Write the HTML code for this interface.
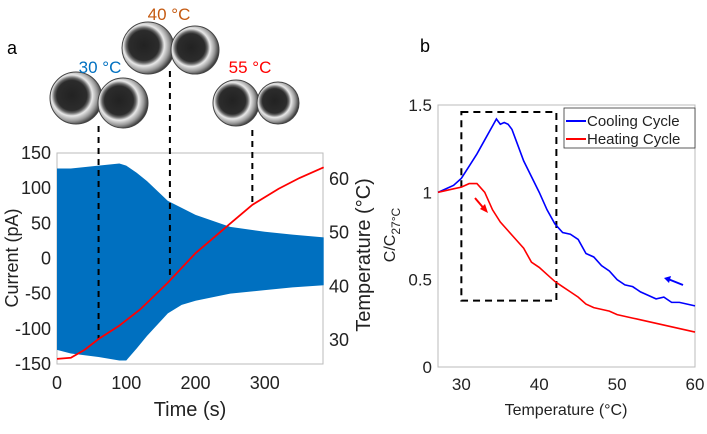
<!DOCTYPE html>
<html><head><meta charset="utf-8"><style>
body{margin:0;background:#fff;}
svg text{font-family:"Liberation Sans",Arial,sans-serif;}
</style></head><body>
<svg id="fig" width="707" height="429" viewBox="0 0 707 429" xmlns="http://www.w3.org/2000/svg">
<defs>
<radialGradient id="drop" cx="0.42" cy="0.45" r="0.58">
<stop offset="0" stop-color="#222"/><stop offset="0.5" stop-color="#2c2c2c"/><stop offset="0.58" stop-color="#666"/><stop offset="0.68" stop-color="#e8e8e8"/><stop offset="0.85" stop-color="#999"/><stop offset="1" stop-color="#3a3a3a"/>
</radialGradient>
</defs>
<g id="panelA"></g>
<g id="panelB"></g>
</svg>
<script>
// Panel a data
const envT=[0,20,60,90,100,115,130,160,180,200,250,300,340,385];
const envUpper=[128,128,132,135,132,122,110,82,72,62,45,38,34,30];
const envLower=[-130,-135,-140,-145,-145,-128,-110,-78,-66,-60,-50,-45,-41,-38];
const tempT=[0,20,40,60,90,120,160,200,250,282,320,350,385];
const tempVals=[26.3,26.5,28,30,32.5,35.5,40.5,46,51.5,55,58,60,62];
const markerT=[60,163,282];
const aXTicks=[0,100,200,300];
const aYTicks=[-150,-100,-50,0,50,100,150];
const aY2Ticks=[30,40,50,60];
// Panel b data
const coolT=[27,28,29,30,31,32,33,34,34.5,35,35.5,36,36.5,37,38,39,40,41,42,43,44,45,46,47,48,49,50,51,52,53,54,55,56,57,58,59,60];
const coolV=[1.0,1.02,1.04,1.08,1.15,1.22,1.30,1.38,1.42,1.39,1.40,1.39,1.36,1.30,1.18,1.09,1.0,0.9,0.82,0.77,0.76,0.73,0.65,0.63,0.58,0.55,0.50,0.47,0.46,0.43,0.41,0.39,0.40,0.37,0.37,0.36,0.35];
const heatT=[27,28,29,30,31,32,33,34,35,36,37,38,39,40,41,42,43,44,45,46,47,48,49,50,51,52,53,54,55,56,57,58,59,60];
const heatV=[1.0,1.01,1.02,1.03,1.05,1.05,1.0,0.90,0.83,0.78,0.73,0.68,0.60,0.57,0.53,0.49,0.46,0.43,0.40,0.36,0.34,0.33,0.32,0.30,0.29,0.28,0.27,0.26,0.25,0.24,0.23,0.22,0.21,0.20];
const bXTicks=[30,40,50,60];
const bYTicks=[0,0.5,1,1.5];
const boxT=[30,42.2];
const boxV=[0.38,1.46];

const NS="http://www.w3.org/2000/svg";
function mk(parent,tag,attrs,text){const e=document.createElementNS(NS,tag);for(const k in attrs)e.setAttribute(k,attrs[k]);if(text!==undefined)e.textContent=text;parent.appendChild(e);return e;}

// ---- Panel A ----
const A=document.getElementById('panelA');
const ax={l:57,r:323,t:153,b:364};
const xA=t=>ax.l+t/384*(ax.r-ax.l);
const yA=v=>ax.b-(v+150)/300*(ax.b-ax.t);
const yA2=T=>339-(T-30)/30*(339-178);
let t=mk(A,'text',{x:7,y:54,'font-size':18,fill:'#000'},'a');

const drops=[[76,98,26],[123,103,25],[148,48,26],[195,50,24],[236,103,23],[278,103,21]];
drops.forEach(d=>{const c=mk(A,'circle',{cx:d[0],cy:d[1],r:d[2],fill:'url(#drop)',stroke:'#444','stroke-width':1});
});
const labs=[[100,73,'#0070C0','30 °C'],[169,20,'#C55A11','40 °C'],[250,73,'#FF0000','55 °C']];
labs.forEach(l=>{const e=mk(A,'text',{x:l[0],y:l[1],'font-size':17,fill:l[2],'text-anchor':'middle'},l[3]);
});
let f=mk(A,'rect',{x:ax.l,y:ax.t,width:ax.r-ax.l,height:ax.b-ax.t,fill:'none',stroke:'#bbb'});

let pts=envT.map((tt,i)=>xA(tt)+','+yA(envUpper[i]));
for(let i=envT.length-1;i>=0;i--)pts.push(xA(envT[i])+','+yA(envLower[i]));
let env=mk(A,'polygon',{points:pts.join(' '),fill:'#0070C0'});

markerT.forEach((mt,i)=>{let idx=0;while(idx<tempT.length-2&&tempT[idx+1]<mt)idx++;
const T=tempVals[idx]+(tempVals[idx+1]-tempVals[idx])*(mt-tempT[idx])/(tempT[idx+1]-tempT[idx]);
const top=[126,71,130][i];
const l=mk(A,'line',{x1:xA(mt),x2:xA(mt),y1:top,y2:yA2(T),stroke:'#000','stroke-width':2,'stroke-dasharray':'6,5'});
});
let tl=mk(A,'polyline',{points:tempT.map((tt,i)=>xA(tt)+','+yA2(tempVals[i])).join(' '),fill:'none',stroke:'#FF0000','stroke-width':1.8});

aXTicks.forEach(v=>{const e=mk(A,'text',{x:xA(v),y:389,'font-size':18,'text-anchor':'middle',fill:'#222'},v);
});
aYTicks.forEach(v=>{const e=mk(A,'text',{x:51,y:yA(v)+6,'font-size':18,'text-anchor':'end',fill:'#222'},v);
});
aY2Ticks.forEach(v=>{const e=mk(A,'text',{x:329,y:yA2(v)+7,'font-size':18,fill:'#222'},v);
});
t=mk(A,'text',{x:190,y:416,'font-size':20,'text-anchor':'middle',fill:'#222'},'Time (s)');

t=mk(A,'text',{x:0,y:0,'font-size':18,'text-anchor':'middle',fill:'#222',transform:'translate(18,258) rotate(-90)'},'Current (pA)');

t=mk(A,'text',{x:0,y:0,'font-size':20,'text-anchor':'middle',fill:'#222',transform:'translate(370,255) rotate(-90)'},'Temperature (°C)');


// ---- Panel B ----
const B=document.getElementById('panelB');
const bx={l:438,r:695,t:105,b:367};
const xB=T=>bx.l+(T-27)/33*(bx.r-bx.l);
const yB=v=>bx.b-v/1.5*(bx.b-bx.t);
t=mk(B,'text',{x:420,y:52,'font-size':18,fill:'#000'},'b');

f=mk(B,'rect',{x:bx.l,y:bx.t,width:bx.r-bx.l,height:bx.b-bx.t,fill:'none',stroke:'#bbb'});

let bb=mk(B,'rect',{x:xB(boxT[0]),y:yB(boxV[1]),width:xB(boxT[1])-xB(boxT[0]),height:yB(boxV[0])-yB(boxV[1]),fill:'none',stroke:'#000','stroke-width':2,'stroke-dasharray':'7,5'});

let cl=mk(B,'polyline',{points:coolT.map((v,i)=>xB(v)+','+yB(coolV[i])).join(' '),fill:'none',stroke:'#0000FF','stroke-width':1.6});

let hl=mk(B,'polyline',{points:heatT.map((v,i)=>xB(v)+','+yB(heatV[i])).join(' '),fill:'none',stroke:'#FF0000','stroke-width':1.6});

let ar=mk(B,'line',{x1:475,y1:198,x2:486,y2:211,stroke:'#FF0000','stroke-width':2});

mk(B,'polygon',{points:'488,213 480,209 485,204',fill:'#FF0000'});
ar=mk(B,'line',{x1:683,y1:285,x2:668,y2:279,stroke:'#0000FF','stroke-width':2});

mk(B,'polygon',{points:'664,278 671,276 669,283',fill:'#0000FF'});
bXTicks.forEach(v=>{const e=mk(B,'text',{x:xB(v),y:390,'font-size':17,'text-anchor':'middle',fill:'#222'},v);
});
bYTicks.forEach(v=>{const e=mk(B,'text',{x:432,y:yB(v)+6,'font-size':17,'text-anchor':'end',fill:'#222'},v);
});
t=mk(B,'text',{x:566,y:415,'font-size':16,'text-anchor':'middle',fill:'#222'},'Temperature (°C)');

t=mk(B,'text',{x:0,y:0,'font-size':16,'text-anchor':'middle',fill:'#222',transform:'translate(395,235) rotate(-90)'});

mk(t,'tspan',{},'C/C');mk(t,'tspan',{dy:5,'font-size':12},'27°C');
const lg=mk(B,'g',{});

mk(lg,'rect',{x:564,y:108,width:131,height:40,fill:'#fff',stroke:'#333','stroke-width':0.8});
[['Cooling Cycle','#0000FF',126],['Heating Cycle','#FF0000',144]].forEach(r=>{
const g=mk(lg,'g',{});
mk(g,'line',{x1:566,x2:586,y1:r[2]-5,y2:r[2]-5,stroke:r[1],'stroke-width':2});
mk(g,'text',{x:587,y:r[2],'font-size':15,fill:'#222'},r[0]);});
</script>
</body></html>
